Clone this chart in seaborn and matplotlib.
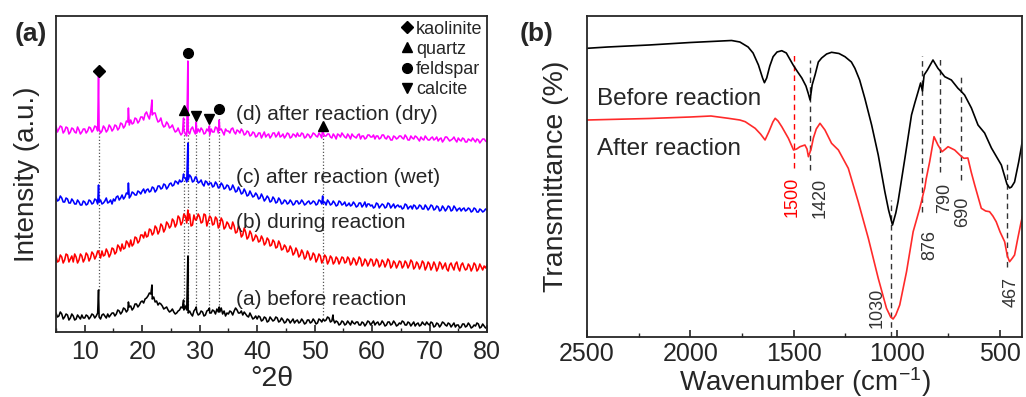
import numpy as np
import pandas as pd
import matplotlib
matplotlib.use("Agg")
import matplotlib.pyplot as plt
from matplotlib.lines import Line2D
from matplotlib.ticker import MultipleLocator
import seaborn as sns

# ---------------------------------------------------------------- XRD data
# readings on whole/half degrees and on the quarter-degree steps between them
two_theta = np.arange(5.0, 80.01, 0.5)
two_theta_mid = np.arange(5.25, 80.0, 0.5)

# (d) after reaction (dry)
intensity_d = [
    206, 203, 205, 201, 204, 200, 203, 199, 202, 200,
    203, 201, 204, 202, 205, 203, 201, 204, 202, 205,
    203, 206, 204, 208, 206, 210, 212, 209, 213, 211,
    215, 218, 216, 221, 219, 214, 211, 208, 206, 208,
    205, 203, 201, 200, 199, 198, 201, 203, 201, 199,
    200, 202, 199, 201, 203, 200, 204, 202, 200, 203,
    201, 203, 200, 202, 199, 201, 198, 200, 197, 199,
    196, 199, 197, 195, 198, 196, 199, 197, 195, 198,
    196, 198, 195, 197, 199, 196, 198, 195, 197, 196,
    198, 195, 197, 199, 196, 198, 194, 196, 198, 195,
    197, 194, 196, 198, 195, 197, 193, 196, 194, 197,
    195, 193, 196, 194, 197, 193, 195, 192, 195, 194,
    196, 193, 195, 192, 194, 196, 193, 195, 192, 194,
    192, 195, 193, 191, 194, 192, 195, 191, 193, 192,
    194, 191, 193, 190, 192, 194, 190, 192, 191, 193,
    190,
]
intensity_d_mid = [
    200, 206, 199, 205, 198, 204, 200, 205, 198, 203,
    199, 205, 200, 206, 201, 199, 206, 200, 207, 201,
    207, 202, 209, 204, 211, 207, 208, 214, 209, 215,
    212, 220, 213, 217, 219, 210, 214, 205, 210, 204,
    207, 200, 204, 197, 202, 196, 198, 205, 198, 203,
    204, 198, 203, 197, 200, 205, 199, 203, 197, 201,
    199, 204, 198, 201, 203, 197, 201, 196, 200, 195,
    199, 194, 200, 197, 194, 199, 195, 200, 196, 194,
    199, 194, 198, 195, 196, 199, 194, 198, 194, 199,
    196, 199, 194, 196, 198, 195, 198, 193, 197, 199,
    195, 198, 193, 196, 194, 198, 196, 193, 197, 195,
    197, 196, 193, 197, 194, 196, 192, 196, 193, 196,
    194, 197, 192, 196, 193, 195, 191, 193, 196, 192,
    194, 192, 195, 193, 190, 195, 193, 192, 195, 190,
    192, 194, 190, 193, 191, 192, 193, 189, 193, 191,
]
peak_pos_d = [12.4, 17.6, 21.7, 27.2, 27.95, 29.4, 31.7, 33.4, 51.4]
peak_int_d = [256, 224, 232, 214, 271, 210, 206, 212, 204]

# (c) after reaction (wet)
intensity_c = [
    135, 132, 134, 130, 133, 129, 131, 128, 130, 127,
    130, 128, 131, 129, 132, 130, 128, 131, 129, 132,
    133, 135, 132, 137, 135, 138, 136, 139, 137, 140,
    141, 139, 143, 141, 144, 142, 146, 144, 147, 145,
    149, 147, 150, 152, 151, 154, 152, 155, 151, 153,
    150, 148, 151, 147, 149, 146, 148, 145, 147, 144,
    146, 143, 144, 141, 142, 139, 140, 137, 138, 136,
    137, 134, 135, 133, 134, 131, 133, 130, 132, 129,
    131, 129, 130, 128, 131, 129, 130, 128, 131, 129,
    130, 128, 131, 129, 127, 130, 128, 129, 127, 130,
    128, 126, 129, 127, 128, 126, 129, 127, 125, 128,
    127, 125, 128, 126, 127, 125, 128, 126, 124, 127,
    126, 124, 127, 125, 123, 126, 124, 126, 123, 125,
    124, 126, 123, 125, 122, 124, 123, 125, 122, 124,
    123, 121, 124, 122, 123, 121, 123, 120, 122, 121,
    122,
]
intensity_c_mid = [
    131, 136, 130, 134, 129, 133, 128, 132, 127, 131,
    127, 132, 128, 133, 128, 132, 129, 134, 130, 128,
    131, 136, 134, 133, 139, 134, 140, 137, 141, 138,
    143, 142, 140, 145, 140, 146, 143, 148, 143, 148,
    146, 151, 148, 150, 155, 150, 157, 150, 155, 149,
    152, 146, 150, 149, 145, 150, 144, 149, 143, 147,
    142, 147, 140, 145, 138, 143, 136, 141, 135, 139,
    133, 138, 131, 136, 130, 135, 129, 134, 128, 132,
    128, 132, 127, 131, 128, 132, 127, 130, 128, 131,
    127, 132, 128, 130, 132, 127, 131, 126, 131, 127,
    130, 127, 126, 130, 125, 129, 125, 130, 128, 126,
    124, 129, 124, 128, 124, 129, 124, 128, 126, 125,
    123, 128, 123, 126, 127, 123, 127, 123, 127, 122,
    127, 122, 126, 121, 126, 121, 126, 121, 126, 121,
    124, 123, 121, 124, 120, 124, 120, 123, 120, 123,
]
peak_pos_c = [12.4, 17.6, 27.2, 27.95, 29.4, 51.4]
peak_int_c = [147, 149, 158, 189, 155, 136]

# (b) during reaction
intensity_b = [
    76, 71, 75, 72, 77, 73, 70, 75, 72, 76,
    73, 77, 74, 78, 76, 79, 81, 77, 80, 78,
    83, 80, 85, 88, 84, 89, 92, 88, 94, 91,
    97, 100, 96, 102, 99, 104, 101, 106, 103, 108,
    106, 111, 108, 114, 110, 116, 112, 106, 117, 113,
    115, 110, 117, 111, 114, 108, 113, 107, 111, 105,
    108, 103, 106, 100, 103, 97, 100, 95, 98, 93,
    95, 91, 93, 89, 92, 87, 90, 85, 88, 83,
    85, 81, 83, 79, 81, 77, 79, 75, 78, 74,
    77, 73, 76, 72, 75, 71, 74, 70, 73, 71,
    74, 70, 73, 69, 72, 70, 73, 68, 71, 69,
    72, 68, 71, 67, 70, 68, 71, 66, 69, 67,
    70, 66, 69, 67, 70, 65, 68, 66, 69, 65,
    68, 65, 67, 64, 68, 66, 63, 67, 65, 68,
    64, 67, 65, 63, 66, 64, 67, 63, 65, 66,
    67,
]
intensity_b_mid = [
    70, 77, 69, 78, 70, 76, 78, 69, 78, 70,
    79, 71, 80, 73, 81, 74, 76, 83, 75, 84,
    78, 87, 81, 83, 91, 85, 86, 95, 89, 97,
    94, 95, 103, 97, 106, 98, 108, 100, 110, 104,
    113, 105, 116, 107, 118, 109, 118, 107, 112, 118,
    109, 118, 106, 116, 107, 115, 104, 114, 103, 110,
    104, 110, 99, 106, 95, 104, 93, 101, 91, 97,
    90, 96, 87, 94, 86, 92, 84, 91, 82, 87,
    80, 86, 77, 84, 75, 82, 73, 81, 72, 79,
    70, 78, 69, 77, 68, 76, 68, 75, 68, 75,
    69, 75, 67, 74, 67, 75, 66, 73, 66, 73,
    66, 73, 65, 72, 65, 73, 64, 71, 64, 71,
    64, 71, 64, 72, 63, 70, 63, 71, 62, 70,
    62, 70, 61, 70, 63, 69, 61, 69, 62, 70,
    61, 69, 62, 68, 61, 69, 61, 68, 62, 64,
]
peak_pos_b = [12.4, 27.95]
peak_int_b = [81, 122]

# (a) before reaction
intensity_a = [
    19, 16, 18, 15, 17, 14, 16, 13, 15, 17,
    14, 16, 15, 17, 16, 15, 17, 16, 18, 17,
    19, 18, 21, 20, 23, 22, 26, 24, 28, 27,
    31, 33, 36, 38, 35, 31, 29, 26, 24, 22,
    21, 20, 19, 22, 24, 26, 19, 18, 21, 20,
    18, 20, 17, 22, 19, 21, 23, 20, 18, 16,
    18, 20, 21, 22, 19, 17, 18, 15, 16, 14,
    13, 15, 12, 14, 11, 13, 12, 14, 11, 12,
    10, 12, 11, 9, 12, 10, 11, 9, 12, 10,
    11, 9, 12, 13, 12, 14, 11, 9, 10, 8,
    10, 8, 9, 11, 8, 10, 7, 9, 8, 10,
    9, 7, 10, 8, 9, 7, 10, 8, 9, 7,
    8, 10, 7, 9, 8, 6, 9, 7, 8, 10,
    7, 9, 6, 8, 7, 9, 6, 8, 7, 5,
    7, 5, 8, 6, 7, 5, 6, 8, 5, 6,
    5,
]
intensity_a_mid = [
    15, 20, 13, 18, 12, 18, 12, 17, 13, 14,
    17, 13, 18, 14, 19, 13, 18, 14, 15, 19,
    16, 22, 18, 24, 20, 25, 22, 28, 25, 30,
    29, 34, 39, 33, 30, 27, 28, 23, 25, 20,
    23, 18, 21, 25, 22, 22, 21, 16, 23, 17,
    21, 16, 21, 19, 22, 18, 20, 24, 21, 19,
    21, 17, 24, 19, 21, 20, 16, 19, 13, 16,
    16, 11, 15, 10, 15, 11, 15, 10, 14, 9,
    13, 9, 13, 11, 9, 13, 8, 12, 9, 13,
    8, 13, 10, 11, 15, 10, 13, 11, 7, 11,
    7, 11, 7, 9, 10, 7, 10, 6, 11, 7,
    11, 9, 7, 11, 6, 10, 7, 11, 6, 9,
    11, 7, 10, 6, 10, 8, 6, 10, 7, 8,
    10, 5, 9, 5, 10, 7, 9, 5, 9, 7,
    4, 8, 5, 9, 4, 7, 9, 4, 8, 4,
]
peak_pos_a = [12.4, 17.6, 21.7, 27.2, 27.95, 29.4, 31.7, 33.4, 53.2]
peak_int_a = [42, 30, 47, 32, 76, 25, 24, 25, 17]

xrd_labels = ["(a) before reaction", "(b) during reaction",
              "(c) after reaction (wet)", "(d) after reaction (dry)"]
xrd_label_level = [27, 103.7, 149.3, 212.5]
xrd_colors = ["#000000", "#ff0000", "#0000ff", "#ff00ff"]

# phase reflections (dotted guides + symbols)
ref_2theta = [12.4, 27.2, 27.95, 29.4, 31.7, 33.4, 51.4]
ref_top = [204, 214, 214, 214, 214, 214, 202]
ref_bottom = [42, 27, 27, 27, 27, 27, 17]
mark_2theta = [12.4, 27.95, 27.2, 29.4, 31.7, 33.4, 51.4]
mark_level = [261, 279, 222, 216, 213, 223, 206]
mark_phase = ["kaolinite", "feldspar", "quartz", "calcite", "calcite", "feldspar", "quartz"]
phases = ["kaolinite", "quartz", "feldspar", "calcite"]
phase_marker = {"kaolinite": "D", "quartz": "^", "feldspar": "o", "calcite": "v"}

# ---------------------------------------------------------------- FTIR data
wn_before = [2500, 2400, 2200, 2000, 1900, 1800, 1760, 1720, 1696, 1670,
             1650, 1641, 1630, 1615, 1599, 1580, 1557, 1535, 1502, 1480,
             1460, 1440, 1428, 1420, 1410, 1396, 1380, 1364, 1340, 1316,
             1280, 1251, 1220, 1203, 1180, 1155, 1122, 1090, 1058, 1040,
             1021, 1005, 994, 961, 929, 913, 897, 885, 876, 868,
             852, 825, 801, 790, 768, 736, 704, 690, 672, 639,
             607, 575, 542, 494, 467, 454, 445, 430, 410, 398, 390]
tr_before = [288.7, 290, 292, 294.5, 295.5, 296.5, 295, 290, 284, 272,
             259, 254.3, 259, 271, 280.3, 285, 286.3, 284, 272, 265,
             259, 251, 243, 237, 252, 262, 275, 279, 283, 284.7,
             283.5, 280.3, 275, 268.7, 257, 238.7, 212, 182, 145.3, 127,
             112, 124, 135.3, 178.7, 222, 234, 245.3, 254, 246, 262,
             267, 277, 268.7, 266, 260.3, 257, 248.7, 246, 242, 229,
             212, 204, 189, 172, 153, 149, 150, 155, 175, 189, 199]

wn_after = [2500, 2200, 2000, 1900, 1816, 1760, 1734, 1686, 1660, 1638,
            1620, 1600, 1589, 1575, 1557, 1525, 1500, 1485, 1469, 1445,
            1435, 1428, 1415, 1404, 1390, 1372, 1348, 1316, 1283, 1235,
            1187, 1138, 1090, 1050, 1030, 1018, 1005, 986, 953, 921,
            889, 881, 870, 865, 858, 841, 820, 810, 801, 781,
            765, 752, 720, 690, 675, 656, 640, 623, 591, 570,
            551, 535, 519, 500, 478, 465, 454, 440, 430, 415, 398, 390]
tr_after = [217, 218.5, 220, 221, 218.7, 217, 215.3, 208.7, 203, 197,
            205, 215, 218.7, 216, 210.3, 198.7, 187, 188, 190.3, 192,
            188, 180.3, 188, 199, 208, 213.7, 207, 193.7, 187, 168.7,
            135.3, 98.7, 58.7, 28.7, 20, 18, 22, 32, 65.3, 105.3,
            128.7, 135.3, 145, 148.7, 158, 175.3, 200.3, 196, 192, 185.3,
            188, 190.3, 187, 181, 178.7, 179, 165, 152, 128.7, 126,
            125.3, 121, 115.3, 105, 95.3, 81, 75.3, 79, 82, 98, 115.3, 122]

band_wn = [1500, 1420, 1030, 876, 790, 690, 467]
band_top = [285, 277, 137, 281, 281, 263, 177]
band_bottom = [169, 167, 0, 125, 165, 157, 70]
band_label_wn = [1507, 1372, 1097, 841, 768, 681, 449]
band_label_level = [140, 139, 29, 92, 139, 125, 45]
band_colors = ["#ff0000", "#333333", "#333333", "#333333", "#333333", "#333333", "#333333"]

# ---------------------------------------------------------------- style
sns.set_style("ticks")
plt.rcParams["font.family"] = ["Liberation Sans", "DejaVu Sans"]
plt.rcParams["mathtext.default"] = "regular"
plt.rcParams["axes.linewidth"] = 1.3

fig = plt.figure(figsize=(10.26, 3.97), dpi=100)
ax_a = fig.add_axes([56 / 1026, 1 - 332 / 397, 431 / 1026, 316 / 397])
ax_b = fig.add_axes([587 / 1026, 1 - 337 / 397, 435 / 1026, 321 / 397])

# ---------------------------------------------------------------- panel (a)
series = [(intensity_a, intensity_a_mid, peak_pos_a, peak_int_a),
          (intensity_b, intensity_b_mid, peak_pos_b, peak_int_b),
          (intensity_c, intensity_c_mid, peak_pos_c, peak_int_c),
          (intensity_d, intensity_d_mid, peak_pos_d, peak_int_d)]
for (base, mid, ppos, pint), color in zip(series, xrd_colors):
    df = pd.DataFrame({"two_theta": np.r_[two_theta, two_theta_mid, ppos],
                       "intensity": np.r_[base, mid, pint]}).sort_values("two_theta")
    sns.lineplot(data=df, x="two_theta", y="intensity", ax=ax_a, color=color,
                 lw=1.15, estimator=None, sort=False)

ax_a.vlines(ref_2theta, ref_bottom, ref_top, colors="#555555",
            linestyles=(0, (1, 1.6)), lw=0.9, zorder=0)
for x, y, ph in zip(mark_2theta, mark_level, mark_phase):
    ax_a.plot(x, y, marker=phase_marker[ph], color="k", ms=7 if ph != "kaolinite" else 6,
              ls="", zorder=5)

for lab, lev in zip(xrd_labels, xrd_label_level):
    ax_a.text(36.3, lev, lab, fontsize=15, va="baseline", ha="left")

handles = [Line2D([], [], marker=phase_marker[p], color="k", ls="",
                  ms=6 if p == "kaolinite" else 7) for p in phases]
ax_a.legend(handles, phases, loc="upper right", frameon=False, fontsize=13,
            handlelength=0.7, handletextpad=0.15, labelspacing=0.18,
            borderaxespad=0.15, borderpad=0.1)

ax_a.set_xlim(5, 80)
ax_a.set_ylim(0, 316)
ax_a.xaxis.set_major_locator(MultipleLocator(10))
ax_a.xaxis.set_minor_locator(MultipleLocator(5))
ax_a.set_yticks([])
ax_a.set_xlabel("°2θ", fontsize=20.5)
ax_a.set_ylabel("Intensity (a.u.)", fontsize=20)
ax_a.xaxis.set_label_coords(0.5, -0.108)
ax_a.yaxis.set_label_coords(-0.036, 0.5)
ax_a.text(-0.058, 0.943, "(a)", transform=ax_a.transAxes, fontsize=19,
          fontweight="bold", ha="center", va="center")

# ---------------------------------------------------------------- panel (b)
df_before = pd.DataFrame({"wn": wn_before, "tr": tr_before})
df_after = pd.DataFrame({"wn": wn_after, "tr": tr_after})
sns.lineplot(data=df_before, x="wn", y="tr", ax=ax_b, color="k", lw=1.2,
             estimator=None, sort=False)
sns.lineplot(data=df_after, x="wn", y="tr", ax=ax_b, color="#ff2a2a", lw=1.2,
             estimator=None, sort=False)

for wn, top, bot, lwn, llev, col in zip(band_wn, band_top, band_bottom,
                                        band_label_wn, band_label_level, band_colors):
    ax_b.vlines(wn, bot, top, colors=col, linestyles=(0, (4, 3)), lw=1.0, zorder=0)
    ax_b.text(lwn, llev, str(wn), rotation=90, fontsize=13, color=col,
              ha="center", va="center")

ax_b.text(2450, 232, "Before reaction", fontsize=17.5, va="baseline", ha="left")
ax_b.text(2450, 182, "After reaction", fontsize=17.5, va="baseline", ha="left")

ax_b.set_xlim(2500, 394)
ax_b.set_ylim(0, 321)
ax_b.xaxis.set_major_locator(MultipleLocator(500))
ax_b.xaxis.set_minor_locator(MultipleLocator(250))
ax_b.set_yticks([])
ax_b.set_xlabel("Wavenumber (cm$^{-1}$)", fontsize=20)
ax_b.set_ylabel("Transmittance (%)", fontsize=20.5)
ax_b.xaxis.set_label_coords(0.5, -0.088)
ax_b.yaxis.set_label_coords(-0.041, 0.5)
ax_b.text(-0.117, 0.944, "(b)", transform=ax_b.transAxes, fontsize=19,
          fontweight="bold", ha="center", va="center")

for ax, pad in ((ax_a, 6), (ax_b, 3.5)):
    ax.tick_params(axis="x", which="major", direction="in", length=5, width=1.2,
                   labelsize=18, pad=pad)
    ax.tick_params(axis="x", which="minor", direction="in", length=3, width=1.0)
    for s in ax.spines.values():
        s.set_visible(True)
        s.set_linewidth(1.3)

fig.savefig("out.png", dpi=100)
